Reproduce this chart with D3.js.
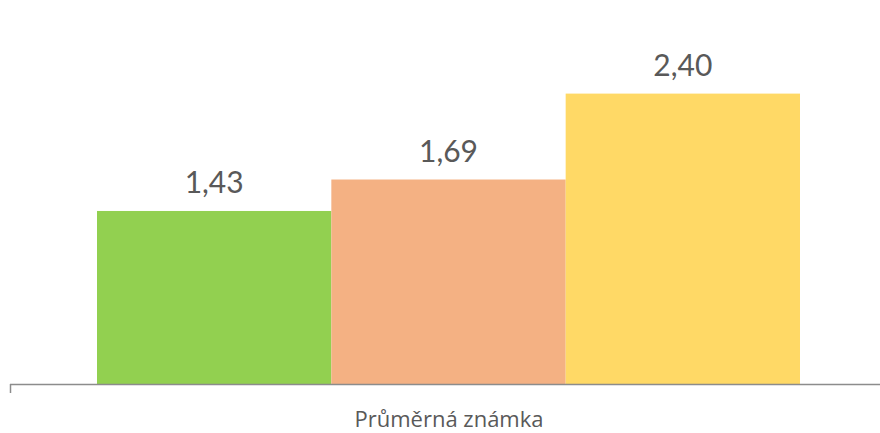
<!DOCTYPE html>
<html><head><meta charset="utf-8">
<script src="https://cdn.jsdelivr.net/npm/d3@7"></script>
<style>body{margin:0;background:#fff}svg{display:block}</style>
</head><body>
<script>
const series = ["A", "B", "C"];
const values = [1.43, 1.69, 2.40];
const labels = ["1,43", "1,69", "2,40"];
const colors = ["#92D050", "#F4B183", "#FFD966"];
const category = "Průměrná známka";

const W = 880, H = 433;
const svg = d3.select("body").append("svg").attr("width", W).attr("height", H);
const x = d3.scaleBand().domain(series).range([97, 800]).padding(0);
const y = d3.scaleLinear().domain([0, 3]).range([384, 21]);

svg.selectAll("rect.bar").data(values).join("rect")
  .attr("x", (d, i) => x(series[i]))
  .attr("width", x.bandwidth())
  .attr("y", d => y(d))
  .attr("height", d => y(0) - y(d))
  .attr("fill", (d, i) => colors[i]);

svg.selectAll("text.val").data(values).join("text")
  .attr("x", (d, i) => x(series[i]) + x.bandwidth() / 2)
  .attr("y", d => y(d) - 18)
  .attr("text-anchor", "middle")
  .attr("font-family", "Lato, 'Open Sans', sans-serif")
  .attr("font-size", 30)
  .attr("fill", "#595959")
  .text((d, i) => labels[i]);

// axis
const axisG = svg.append("g");
axisG.append("line").attr("x1", 10).attr("x2", 880).attr("y1", 384.5).attr("y2", 384.5)
  .attr("stroke", "#8c8c8c").attr("stroke-width", 1.5);
axisG.append("line").attr("x1", 10.5).attr("x2", 10.5).attr("y1", 384).attr("y2", 393)
  .attr("stroke", "#8c8c8c").attr("stroke-width", 1.5);

svg.append("text")
  .attr("x", 449).attr("y", 427)
  .attr("text-anchor", "middle")
  .attr("font-family", "'Open Sans', sans-serif")
  .attr("font-size", 22)
  .attr("fill", "#595959")
  .text(category);
</script>
</body></html>
